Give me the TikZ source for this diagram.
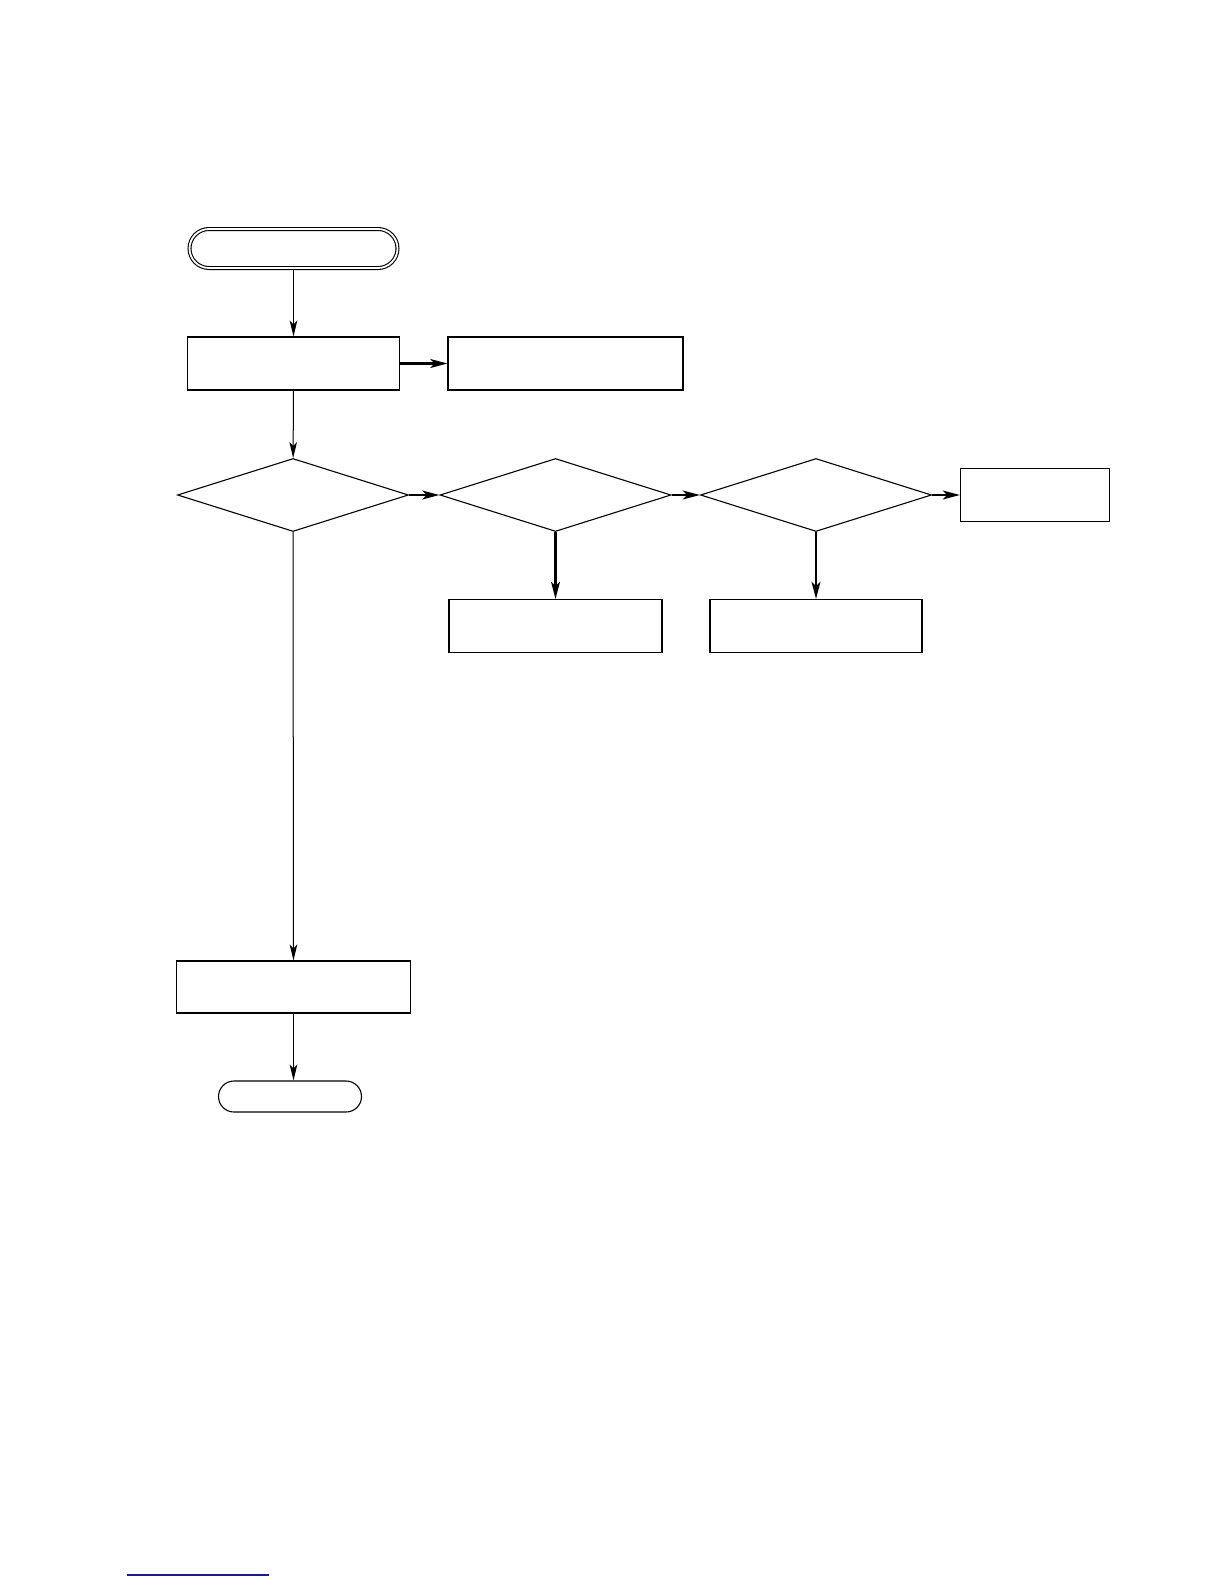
\documentclass[tikz,border=0pt]{standalone}
\usepackage{tikz}
\usetikzlibrary{arrows.meta,positioning,shapes.geometric,shapes.misc,calc}
\definecolor{linkblue}{HTML}{1A1A8C}

\begin{document}
\begin{tikzpicture}[
  x=0.5pt,
  y=-0.5pt,
  box/.style={rectangle, draw, line width=0.55pt, inner sep=0pt, minimum height=26.5pt},
  term/.style={rounded rectangle, draw, line width=0.55pt, inner sep=0pt},
  test/.style={diamond, draw, line width=0.55pt, inner sep=0pt, minimum width=115.5pt, minimum height=36.5pt},
  flow/.style={-{Stealth[length=8pt,width=3.8pt,inset=2pt]}, line width=0.5pt},
  side/.style={-{Stealth[length=8.5pt,width=4.4pt,inset=2pt]}, line width=1.2pt}
]
  \useasboundingbox (0,0) rectangle (1224,1584);

  \node[term, double, double distance=0.9pt, minimum width=104pt, minimum height=19.5pt] (start) at (293.5,248.5) {};
  \node[box, minimum width=106pt] (prep) at (293.5,363.5) {};
  \node[box, minimum width=117.5pt] (note) at (565.5,363.5) {};

  \node[test] (testa) at (293,495) {};
  \node[test] (testb) at (555.5,495) {};
  \node[test] (testc) at (816,495) {};
  \node[box, minimum width=74.5pt] (other) at (1035,495) {};

  \node[box, minimum width=106.5pt] (fixb) at (555.5,626) {};
  \node[box, minimum width=106pt] (fixc) at (816,626) {};

  \node[box, minimum width=117pt, minimum height=26pt] (finish) at (293.5,987) {};
  \node[term, minimum width=71.5pt, minimum height=15.5pt] (stop) at (290,1096.5) {};

  \draw[flow] (start) -- (prep);
  \draw[side] (prep) -- (note);
  \draw[flow] (prep) -- (testa);
  \draw[side] (testa) -- (testb);
  \draw[side] (testb) -- (testc);
  \draw[side] (testc) -- (other);
  \draw[side] (testb) -- (fixb);
  \draw[side] (testc) -- (fixc);
  \draw[flow] (testa) -- (finish);
  \draw[flow] (finish) -- (finish |- stop.north);

  \draw[linkblue, line width=0.7pt] (127,1575) -- (269,1575);
\end{tikzpicture}
\end{document}
